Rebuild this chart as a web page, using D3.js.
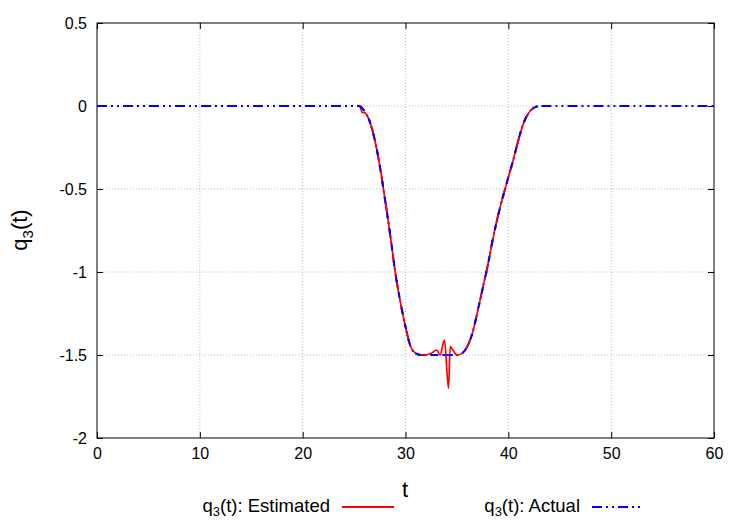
<!DOCTYPE html>
<html><head><meta charset="utf-8">
<script src="https://cdn.jsdelivr.net/npm/d3@7"></script>
<style>body{margin:0;background:#fff}svg{font-family:"Liberation Sans",Arial,sans-serif}</style>
</head><body><svg id="c" width="750" height="525"></svg>
<script>
const xTicks=[0,10,20,30,40,50,60];
const yTicks=[0.5,0,-0.5,-1,-1.5,-2];
const yTickLabels=["0.5","0","-0.5","-1","-1.5","-2"];
const actualT=[0,5,10,15,20,25,25.5,26,26.5,27,27.5,28,28.5,29,29.5,30,30.5,31,31.5,32,33,34,35,35.5,36,36.5,37,37.5,38,38.5,39,39.5,40,40.5,41,41.5,42,42.5,43,45,50,55,60];
const actualQ=[0,0,0,0,0,0,0,-0.03,-0.09,-0.2,-0.36,-0.56,-0.77,-1.0,-1.18,-1.33,-1.45,-1.49,-1.5,-1.5,-1.5,-1.5,-1.5,-1.49,-1.45,-1.37,-1.24,-1.1,-0.96,-0.8,-0.66,-0.54,-0.43,-0.32,-0.2,-0.1,-0.04,-0.01,0,0,0,0,0];
const estT=[25.6,25.8,26,26.5,27,27.5,28,28.5,29,29.5,30,30.5,31,31.5,32,32.5,33.04,33.36,33.79,34.18,34.35,34.6,35,35.5,36,36.5,37,37.5,38,38.5,39,39.5,40,40.5,41,41.5,42,42.5];
const estQ=[0,-0.04,-0.04,-0.09,-0.2,-0.36,-0.56,-0.77,-1.0,-1.18,-1.33,-1.45,-1.49,-1.5,-1.5,-1.49,-1.47,-1.5,-1.41,-1.70,-1.45,-1.47,-1.5,-1.49,-1.45,-1.37,-1.24,-1.1,-0.96,-0.8,-0.66,-0.54,-0.43,-0.32,-0.2,-0.1,-0.04,-0.01];

const svg=d3.select("#c");
const L=97,R=714,T=23,B=438;
const x=d3.scaleLinear().domain([0,60]).range([L,R]);
const y=d3.scaleLinear().domain([-2,0.5]).range([B,T]);
const g=svg.append("g");
g.selectAll(".gx").data(xTicks.slice(1,-1)).join("line").attr("x1",d=>x(d)).attr("x2",d=>x(d)).attr("y1",T).attr("y2",B).attr("stroke","#bbb").attr("stroke-dasharray","1,2");
g.selectAll(".gy").data(yTicks.slice(1,-1)).join("line").attr("y1",d=>y(d)).attr("y2",d=>y(d)).attr("x1",L).attr("x2",R).attr("stroke","#bbb").attr("stroke-dasharray","1,2");
const ax=svg.append("g").attr("transform",`translate(0,${B})`).call(d3.axisBottom(x).tickValues(xTicks).tickSizeInner(-6).tickSizeOuter(0).tickPadding(10));
const ay=svg.append("g").attr("transform",`translate(${L},0)`).call(d3.axisLeft(y).tickValues(yTicks).tickFormat((d,i)=>yTickLabels[i]).tickSizeInner(-6).tickSizeOuter(0).tickPadding(10));
const ax2=svg.append("g").attr("transform",`translate(0,${T})`).call(d3.axisTop(x).tickValues(xTicks).tickSizeInner(-6).tickSizeOuter(0).tickFormat(""));
const ay2=svg.append("g").attr("transform",`translate(${R},0)`).call(d3.axisRight(y).tickValues(yTicks).tickSizeInner(-6).tickSizeOuter(0).tickFormat(""));
[ax,ay,ax2,ay2].forEach(a=>{a.selectAll("text").attr("font-size",16).attr("fill","#000").attr("font-family","Liberation Sans,Arial,sans-serif");a.select(".domain").remove();a.selectAll("line").attr("stroke","#000");});
svg.append("rect").attr("x",L).attr("y",T).attr("width",R-L).attr("height",B-T).attr("fill","none").attr("stroke","#000");
const line=d3.line().x(d=>x(d[0])).y(d=>y(d[1]));
const sline=d3.line().curve(d3.curveMonotoneX).x(d=>x(d[0])).y(d=>y(d[1]));
const act=actualT.map((t,i)=>[t,actualQ[i]]);
svg.append("path").datum(act).attr("d",sline).attr("fill","none").attr("stroke","#00f").attr("stroke-width",2).attr("stroke-dasharray","10,4,2,4,2,4");
svg.append("path").datum(estT.map((t,i)=>[t,estQ[i]])).attr("d",sline).attr("fill","none").attr("stroke","#f00").attr("stroke-width",1.7);
svg.append("path").datum(act.filter(d=>d[0]>=25.5&&d[0]<=43)).attr("d",sline).attr("fill","none").attr("stroke","#00f").attr("stroke-width",2).attr("stroke-dasharray","6,10");
svg.append("text").attr("x",405).attr("y",497).attr("text-anchor","middle").attr("font-size",22).text("t");
const yl=svg.append("text").attr("transform","translate(27,230) rotate(-90)").attr("text-anchor","middle").attr("font-size",22);
yl.append("tspan").text("q");yl.append("tspan").attr("font-size",15).attr("dy",6).text("3");yl.append("tspan").attr("dy",-6).text("(t)");
function leg(xe,label,col,dash){const t=svg.append("text").attr("x",xe).attr("y",512).attr("text-anchor","end").attr("font-size",18.5);
t.append("tspan").text("q");t.append("tspan").attr("font-size",13).attr("dy",4).text("3");t.append("tspan").attr("dy",-4).text("(t): "+label);
svg.append("line").attr("x1",xe+12).attr("x2",xe+64).attr("y1",507).attr("y2",507).attr("stroke",col).attr("stroke-width",2).attr("stroke-dasharray",dash);}
leg(330,"Estimated","#f00",null);
leg(580,"Actual","#00f","10,4,2,4,2,4");
</script></body></html>
